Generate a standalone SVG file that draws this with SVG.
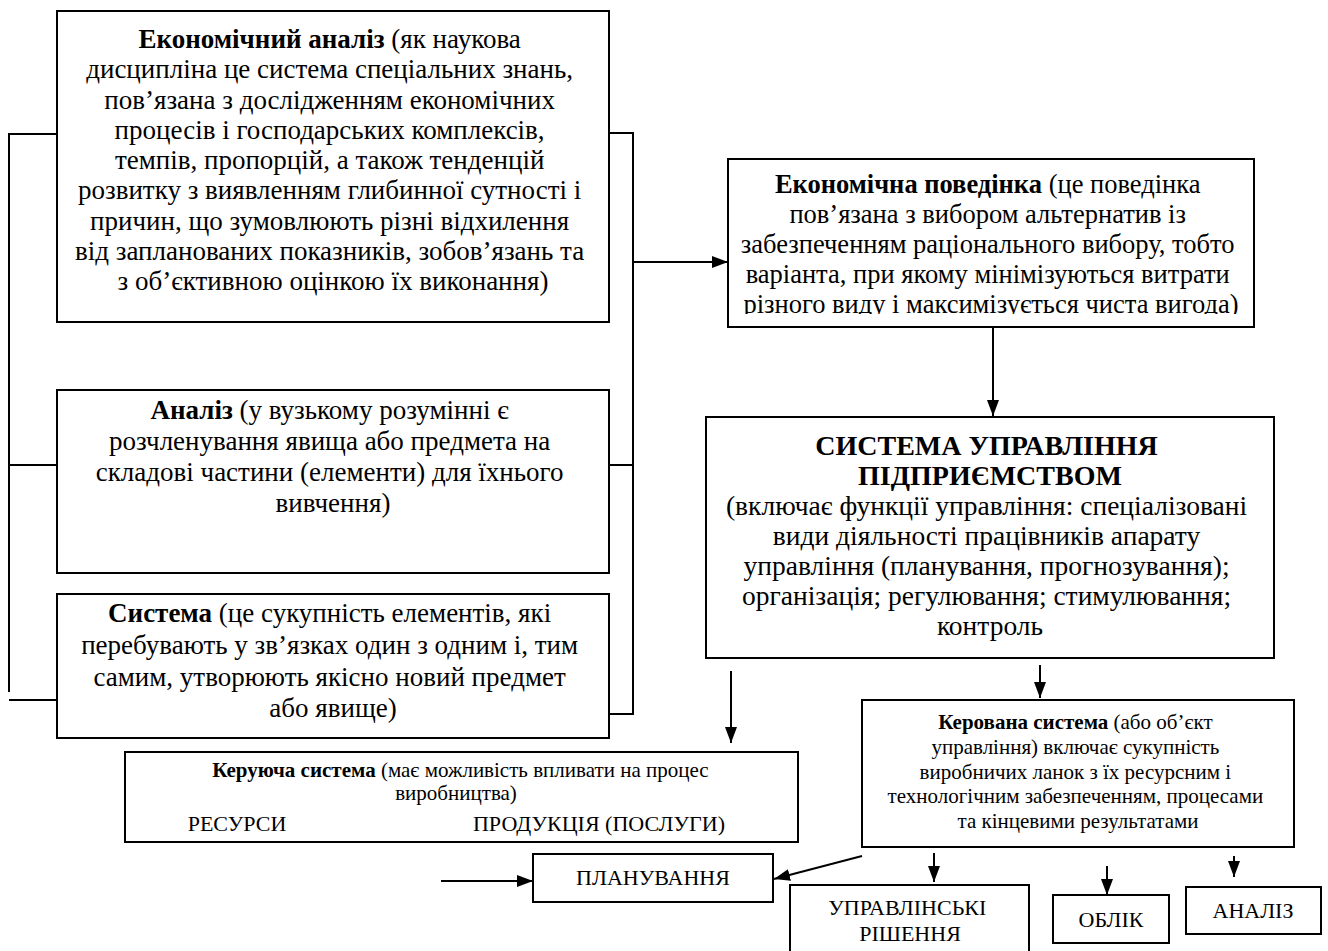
<svg xmlns="http://www.w3.org/2000/svg" width="1328" height="951" viewBox="0 0 1328 951">
<style>
.box{fill:#fff;stroke:#000;stroke-width:2}
.ln{fill:none;stroke:#000;stroke-width:2}
text{font-family:"Liberation Serif","Times New Roman",serif;fill:#000;text-anchor:middle}
.t27{font-size:27px}
.t26{font-size:26.5px}
.t28{font-size:27.5px}
.t28b{font-size:28px;font-weight:bold}
.t21{font-size:21px}
.t22{font-size:22px}
.b{font-weight:bold}
</style>
<defs>
<marker id="ah" markerUnits="userSpaceOnUse" markerWidth="16" markerHeight="12" refX="16" refY="6" orient="auto">
<path d="M0,0 L16,6 L0,12 Z" fill="#000"/>
</marker>
<clipPath id="clip2"><rect x="728" y="159" width="526" height="155"/></clipPath>
</defs>

<g id="connectors">
<polyline class="ln" points="57,134 9,134 9,692"/>
<line class="ln" x1="9" y1="465" x2="57" y2="465"/>
<line class="ln" x1="9" y1="700" x2="57" y2="700"/>
<polyline class="ln" points="609,133 633,133 633,714 609,714"/>
<line class="ln" x1="609" y1="465" x2="633" y2="465"/>
<line class="ln" x1="633" y1="262" x2="728" y2="262" marker-end="url(#ah)"/>
<line class="ln" x1="993" y1="303" x2="993" y2="416" marker-end="url(#ah)"/>
<line class="ln" x1="1040" y1="665" x2="1040" y2="698" marker-end="url(#ah)"/>
<line class="ln" x1="731" y1="671" x2="731" y2="743" marker-end="url(#ah)"/>
<line class="ln" x1="441" y1="881" x2="533" y2="881" marker-end="url(#ah)"/>
<line class="ln" x1="862" y1="856" x2="774" y2="879" marker-end="url(#ah)"/>
<line class="ln" x1="934" y1="853" x2="934" y2="882" marker-end="url(#ah)"/>
<line class="ln" x1="1107" y1="866" x2="1107" y2="895" marker-end="url(#ah)"/>
<line class="ln" x1="1234" y1="856" x2="1234" y2="877" marker-end="url(#ah)"/>
</g>

<g id="econ-analysis">
<rect class="box" x="57" y="11" width="552" height="311"/>
<text class="t27">
<tspan x="333" y="48"><tspan class="b">Економічний аналіз</tspan> (як наукова</tspan>
<tspan x="333" y="78">дисципліна це система спеціальних знань,</tspan>
<tspan x="333" y="109">пов’язана  з дослідженням економічних</tspan>
<tspan x="333" y="139">процесів і господарських комплексів,</tspan>
<tspan x="333" y="169">темпів, пропорцій, а також тенденцій</tspan>
<tspan x="333" y="199">розвитку з виявленням глибинної сутності і</tspan>
<tspan x="333" y="230">причин, що зумовлюють різні відхилення</tspan>
<tspan x="333" y="260">від запланованих показників, зобов’язань та</tspan>
<tspan x="333" y="290">з об’єктивною оцінкою їх виконання)</tspan>
</text>
</g>

<g id="analysis">
<rect class="box" x="57" y="390" width="552" height="183"/>
<text class="t27">
<tspan x="333" y="419"><tspan class="b">Аналіз</tspan> (у вузькому розумінні є</tspan>
<tspan x="333" y="450">розчленування явища або предмета на</tspan>
<tspan x="333" y="481">складові частини (елементи) для їхнього</tspan>
<tspan x="333" y="512">вивчення)</tspan>
</text>
</g>

<g id="system">
<rect class="box" x="57" y="594" width="552" height="144"/>
<text class="t27">
<tspan x="333" y="622"><tspan class="b">Система</tspan> (це сукупність елементів, які</tspan>
<tspan x="333" y="654">перебувають у зв’язках один з одним і, тим</tspan>
<tspan x="333" y="686">самим, утворюють якісно новий предмет</tspan>
<tspan x="333" y="717">або явище)</tspan>
</text>
</g>

<g id="econ-behaviour">
<rect class="box" x="728" y="159" width="526" height="168"/>
<text class="t26" clip-path="url(#clip2)">
<tspan x="991" y="193"><tspan class="b">Економічна поведінка</tspan> (це поведінка</tspan>
<tspan x="991" y="223">пов’язана з вибором альтернатив із</tspan>
<tspan x="991" y="253">забезпеченням раціонального вибору, тобто</tspan>
<tspan x="991" y="283">варіанта, при якому мінімізуються витрати</tspan>
<tspan x="991" y="313">різного виду і максимізується чиста вигода)</tspan>
</text>
</g>

<g id="management-system">
<rect class="box" x="706" y="417" width="568" height="241"/>
<text class="t28b">
<tspan x="990" y="455">СИСТЕМА УПРАВЛІННЯ</tspan>
<tspan x="990" y="485">ПІДПРИЄМСТВОМ</tspan>
</text>
<text class="t28">
<tspan x="990" y="515">(включає функції управління: спеціалізовані</tspan>
<tspan x="990" y="545">види діяльності працівників апарату</tspan>
<tspan x="990" y="575">управління (планування, прогнозування);</tspan>
<tspan x="990" y="605">організація; регулювання; стимулювання;</tspan>
<tspan x="990" y="635">контроль</tspan>
</text>
</g>

<g id="controlling-system">
<rect class="box" x="125" y="752" width="673" height="90"/>
<text class="t21">
<tspan x="463" y="777"><tspan class="b">Керуюча система</tspan> (має можливість впливати на процес</tspan>
<tspan x="456" y="800">виробництва)</tspan>
</text>
<text class="t22" x="237" y="831">РЕСУРСИ</text>
<text class="t22" x="599" y="831">ПРОДУКЦІЯ (ПОСЛУГИ)</text>
</g>

<g id="controlled-system">
<rect class="box" x="862" y="700" width="432" height="147"/>
<text class="t21">
<tspan x="1078" y="729"><tspan class="b">Керована система</tspan> (або об’єкт</tspan>
<tspan x="1078" y="754">управління) включає сукупність</tspan>
<tspan x="1078" y="779">виробничих ланок з їх ресурсним і</tspan>
<tspan x="1078" y="803">технологічним забезпеченням, процесами</tspan>
<tspan x="1078" y="828">та кінцевими результатами</tspan>
</text>
</g>

<g id="planning">
<rect class="box" x="533" y="854" width="240" height="48"/>
<text class="t22" x="653" y="885">ПЛАНУВАННЯ</text>
</g>

<g id="decisions">
<path class="ln" d="M790,952 V885 H1029 V952"/>
<text class="t22">
<tspan x="910" y="915">УПРАВЛІНСЬКІ</tspan>
<tspan x="910" y="941">РІШЕННЯ</tspan>
</text>
</g>

<g id="accounting">
<rect class="box" x="1053" y="895" width="116" height="48"/>
<text class="t22" x="1111" y="927">ОБЛІК</text>
</g>

<g id="analysis-small">
<rect class="box" x="1186" y="887" width="135" height="47"/>
<text class="t22" x="1253" y="918">АНАЛІЗ</text>
</g>
</svg>
